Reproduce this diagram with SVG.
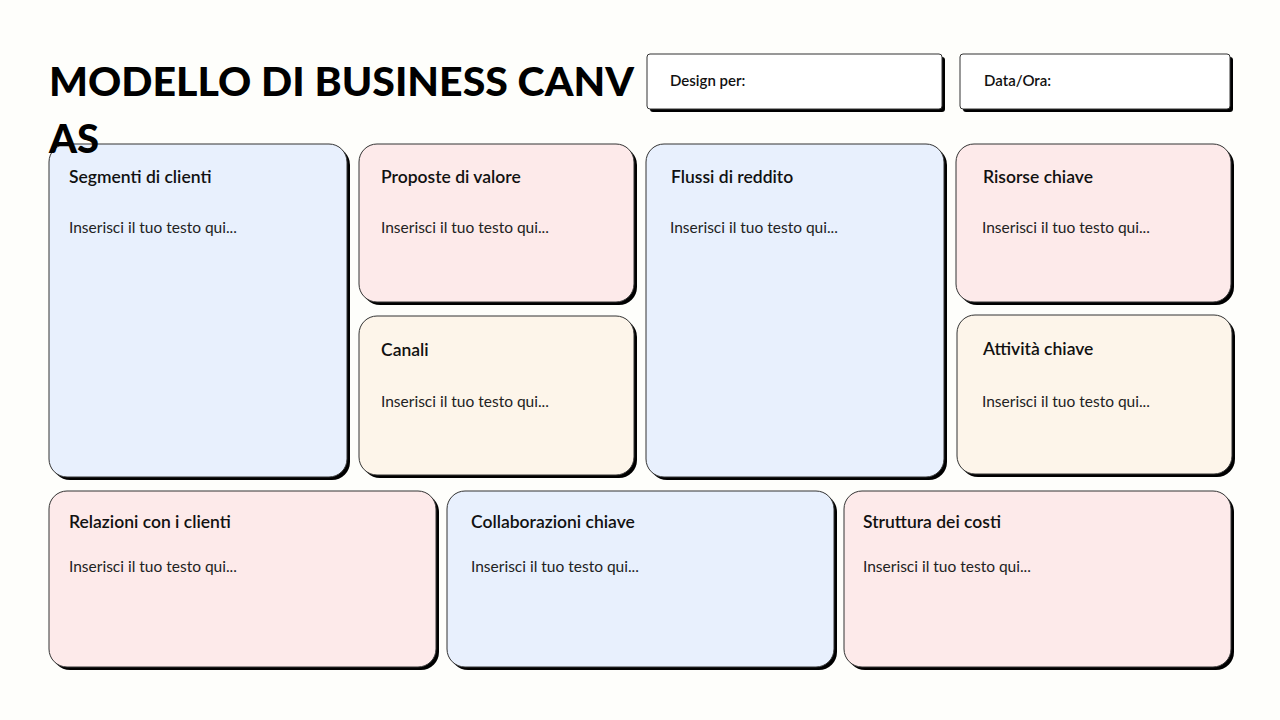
<svg xmlns="http://www.w3.org/2000/svg" width="1280" height="720" viewBox="0 0 1280 720">
<defs><style>
.c{stroke:#333;stroke-width:1}
.b{fill:#e8f0fd}.p{fill:#fdeaea}.y{fill:#fdf5ea}
.sh{fill:#000}
.h{font-family:Lato,"Liberation Sans",sans-serif;font-size:17.5px;font-weight:600;fill:#111}
.t{font-family:Lato,"Liberation Sans",sans-serif;font-size:15.5px;fill:#222}
.ti{font-family:Lato,"Liberation Sans",sans-serif;font-size:40px;font-weight:900;fill:#000}
.s{font-family:Lato,"Liberation Sans",sans-serif;font-size:15px;font-weight:600;fill:#111}
</style></defs>
<rect width="1280" height="720" fill="#fefefb"/>
<g id="design"><rect class="sh" x="650" y="57" width="295" height="55" rx="3"/><rect class="c" x="647" y="54" width="295" height="55" rx="3" fill="#fff"/><text class="s" x="670" y="86">Design per:</text></g>
<g id="data"><rect class="sh" x="963" y="57" width="270" height="55" rx="3"/><rect class="c" x="960" y="54" width="270" height="55" rx="3" fill="#fff"/><text class="s" x="984" y="86">Data/Ora:</text></g>
<g id="segmenti"><rect class="sh" x="52" y="147" width="298" height="333" rx="18"/><rect class="c b" x="49" y="144" width="298" height="333" rx="18"/><text class="h" x="69" y="183">Segmenti di clienti</text><text class="t" x="69" y="233">Inserisci il tuo testo qui...</text></g>
<g id="proposte"><rect class="sh" x="362" y="147" width="275" height="158" rx="18"/><rect class="c p" x="359" y="144" width="275" height="158" rx="18"/><text class="h" x="381" y="183">Proposte di valore</text><text class="t" x="381" y="233">Inserisci il tuo testo qui...</text></g>
<g id="canali"><rect class="sh" x="362" y="319" width="275" height="159" rx="18"/><rect class="c y" x="359" y="316" width="275" height="159" rx="18"/><text class="h" x="381" y="356">Canali</text><text class="t" x="381" y="407">Inserisci il tuo testo qui...</text></g>
<g id="flussi"><rect class="sh" x="649" y="147" width="298" height="333" rx="18"/><rect class="c b" x="646" y="144" width="298" height="333" rx="18"/><text class="h" x="671" y="183">Flussi di reddito</text><text class="t" x="670" y="233">Inserisci il tuo testo qui...</text></g>
<g id="risorse"><rect class="sh" x="959" y="147" width="275" height="158" rx="18"/><rect class="c p" x="956" y="144" width="275" height="158" rx="18"/><text class="h" x="983" y="183">Risorse chiave</text><text class="t" x="982" y="233">Inserisci il tuo testo qui...</text></g>
<g id="attivita"><rect class="sh" x="960" y="318" width="275" height="159" rx="18"/><rect class="c y" x="957" y="315" width="275" height="159" rx="18"/><text class="h" x="983" y="355">Attività chiave</text><text class="t" x="982" y="407">Inserisci il tuo testo qui...</text></g>
<g id="relazioni"><rect class="sh" x="52" y="494" width="387" height="176" rx="18"/><rect class="c p" x="49" y="491" width="387" height="176" rx="18"/><text class="h" x="69" y="528">Relazioni con i clienti</text><text class="t" x="69" y="572">Inserisci il tuo testo qui...</text></g>
<g id="collaborazioni"><rect class="sh" x="450" y="494" width="387" height="176" rx="18"/><rect class="c b" x="447" y="491" width="387" height="176" rx="18"/><text class="h" x="471" y="528">Collaborazioni chiave</text><text class="t" x="471" y="572">Inserisci il tuo testo qui...</text></g>
<g id="struttura"><rect class="sh" x="847" y="494" width="387" height="176" rx="18"/><rect class="c p" x="844" y="491" width="387" height="176" rx="18"/><text class="h" x="863" y="528">Struttura dei costi</text><text class="t" x="863" y="572">Inserisci il tuo testo qui...</text></g>
<g id="title"><text class="ti" x="49" y="96" textLength="585" lengthAdjust="spacingAndGlyphs">MODELLO DI BUSINESS CANV</text>
<text class="ti" x="49" y="153">AS</text></g>
<g id="connectors"/>
</svg>
